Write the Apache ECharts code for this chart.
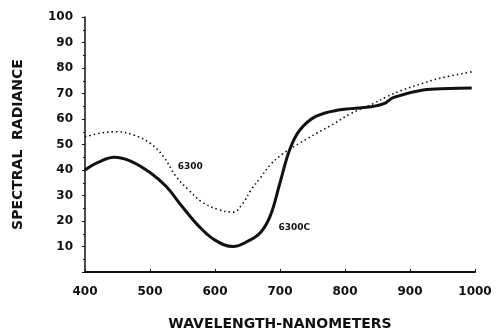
<!DOCTYPE html>
<html>
<head>
<meta charset="utf-8">
<script src="https://cdn.jsdelivr.net/npm/echarts@6/dist/echarts.min.js"></script>
<style>
  html, body { margin: 0; padding: 0; background: #fff; }
  #chart { width: 496px; height: 328px; }
</style>
</head>
<body>
<div id="chart"></div>
<script>
// values
var solidWave = [400, 420, 445, 470, 500, 525, 550, 575, 600, 628, 650, 670, 685, 700, 715, 730, 755, 790, 840, 860, 875, 920, 960, 995];
var solidVal  = [40, 43, 45, 43.5, 39, 33.5, 25.5, 18, 12.5, 10, 12, 15.5, 22, 35, 48, 55.5, 61, 63.5, 64.8, 66, 68.5, 71.4, 72, 72.2];
var dotWave = [400, 425, 450, 475, 500, 520, 540, 560, 580, 605, 628, 643, 655, 670, 685, 705, 730, 757, 782, 808, 843, 864, 890, 920, 946, 995];
var dotVal  = [53, 54.5, 55, 53.7, 50.5, 45.5, 37.5, 32, 27.5, 24.5, 23.5, 27, 32, 37, 42, 46.5, 50.5, 54.5, 58, 62, 66, 68.7, 71.5, 74, 76, 78.5];
var xTicks = [400, 500, 600, 700, 800, 900, 1000];
var yTicks = [10, 20, 30, 40, 50, 60, 70, 80, 90, 100];

var chart = echarts.init(document.getElementById('chart'));
var ink = '#111';
var font = 'DejaVu Sans';

function pairs(xs, ys) {
  return xs.map(function (x, i) { return [x, ys[i]]; });
}

// curve tag, placed at a data coordinate
function tag(text, coord) {
  return {
    symbol: 'rect', symbolSize: 1,
    itemStyle: { color: 'rgba(0,0,0,0)' },
    label: { show: true, color: ink, fontFamily: font, fontWeight: 'bold', fontSize: 9, position: 'inside', formatter: text },
    data: [{ coord: coord }]
  };
}

chart.setOption({
  animation: false,
  grid: { left: 85, right: 21, top: 17, bottom: 56, outerBoundsMode: 'none' },
  xAxis: {
    type: 'value', min: 400, max: 1000, interval: 100,
    name: 'WAVELENGTH-NANOMETERS', nameLocation: 'middle', nameGap: 45,
    nameTextStyle: { color: ink, fontFamily: font, fontWeight: 'bold', fontSize: 14 },
    axisLine: { lineStyle: { color: ink, width: 2 } },
    axisTick: { inside: true, length: 3, lineStyle: { color: ink } },
    axisLabel: {
      color: ink, fontFamily: font, fontWeight: 'bold', fontSize: 12, margin: 14,
      formatter: function (v) { return xTicks.indexOf(v) >= 0 ? String(v) : ''; }
    },
    splitLine: { show: false }
  },
  yAxis: {
    type: 'value', min: 0, max: 100, interval: 10,
    name: 'SPECTRAL  RADIANCE', nameLocation: 'middle', nameRotate: 90, nameGap: 60,
    nameTextStyle: { color: ink, fontFamily: font, fontWeight: 'bold', fontSize: 14 },
    axisLine: { show: true, lineStyle: { color: ink, width: 1.5 } },
    axisTick: { length: 3, lineStyle: { color: ink } },
    minorTick: { show: true, splitNumber: 2, length: 2, lineStyle: { color: ink } },
    axisLabel: {
      color: ink, fontFamily: font, fontWeight: 'bold', fontSize: 12, margin: 12,
      formatter: function (v) { return yTicks.indexOf(v) >= 0 ? String(v) : ''; }
    },
    splitLine: { show: false }
  },
  series: [
    {
      name: '6300', type: 'line', smooth: 0.4, symbol: 'none',
      data: pairs(dotWave, dotVal),
      lineStyle: { color: ink, width: 1.6, type: [1.5, 3] },
      markPoint: tag('6300', [562, 41.5])
    },
    {
      name: '6300C', type: 'line', smooth: 0.4, symbol: 'none',
      data: pairs(solidWave, solidVal),
      lineStyle: { color: ink, width: 3 },
      markPoint: tag('6300C', [722, 17.5])
    }
  ]
});
</script>
</body>
</html>
